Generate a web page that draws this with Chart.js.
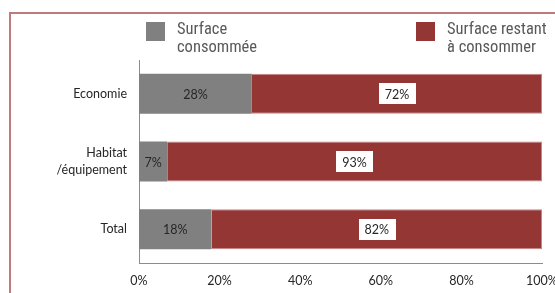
<!DOCTYPE html>
<html>
<head>
<meta charset="utf-8">
<script src="https://cdn.jsdelivr.net/npm/chart.js@4/dist/chart.umd.min.js"></script>
<style>
  html, body { margin: 0; padding: 0; background: #fff; }
  #wrap { position: relative; width: 555px; height: 293px; overflow: hidden; }
  #frame { position: absolute; left: 9px; top: 12px; width: 600px; height: 400px; border: 2px solid #bf7b7b; box-sizing: border-box; }
  canvas { position: absolute; left: 0; top: 0; }
  .leg { position: absolute; font-family: "Liberation Sans Narrow", "Arial Narrow", "Roboto Condensed", sans-serif; font-size: 16.5px; line-height: 17.5px; color: #595959; white-space: nowrap; }
  .sw { position: absolute; width: 19px; height: 19px; }
</style>
</head>
<body>
<div id="wrap">
  <div id="frame"></div>
  <canvas id="c" width="555" height="293"></canvas>
  <div id="legend"></div>
</div>
<script>
const categories = [["Economie"], ["Habitat", "/équipement"], ["Total"]];
const seriesNames = [["Surface", "consommée"], ["Surface restant", "à consommer"]];
const consumed = [28, 7, 18];
const remaining = [72, 93, 82];
const xTicks = [0, 20, 40, 60, 80, 100];
const colors = ["#808080", "#943634"];

const legendPos = [[146, 177], [416, 447]];
const legend = document.getElementById("legend");
seriesNames.forEach((name, i) => {
  const sw = document.createElement("div");
  sw.className = "sw";
  sw.style.left = legendPos[i][0] + "px";
  sw.style.top = "22px";
  sw.style.background = colors[i];
  legend.appendChild(sw);
  const t = document.createElement("div");
  t.className = "leg";
  t.style.left = legendPos[i][1] + "px";
  t.style.top = "20px";
  t.innerHTML = name.join("<br>");
  legend.appendChild(t);
});

const FONT = "Lato, 'Open Sans', sans-serif";

const labelPlugin = {
  id: "barLabels",
  afterDatasetsDraw(chart) {
    const ctx = chart.ctx;
    ctx.save();
    ctx.font = "12.5px " + FONT;
    ctx.textAlign = "center";
    ctx.textBaseline = "middle";
    chart.data.datasets.forEach((ds, di) => {
      const meta = chart.getDatasetMeta(di);
      meta.data.forEach((bar, i) => {
        const cx = (bar.x + bar.base) / 2;
        const cy = bar.y;
        const txt = ds.data[i] + "%";
        if (di === 1) {
          const w = ctx.measureText(txt).width + 12;
          ctx.fillStyle = "#fff";
          ctx.fillRect(Math.round(cx - w / 2), Math.round(cy - 10.5), Math.round(w), 21);
        }
        ctx.fillStyle = "#262626";
        ctx.fillText(txt, cx, cy + 1);
      });
    });
    ctx.restore();
  }
};

new Chart(document.getElementById("c"), {
  type: "bar",
  data: {
    labels: categories,
    datasets: [
      { label: seriesNames[0].join(" "), data: consumed, backgroundColor: colors[0], borderWidth: 0, barPercentage: 0.59, categoryPercentage: 1 },
      { label: seriesNames[1].join(" "), data: remaining, backgroundColor: colors[1], borderColor: "#c98585", borderWidth: 1, borderSkipped: "left", barPercentage: 0.59, categoryPercentage: 1 }
    ]
  },
  plugins: [labelPlugin],
  options: {
    indexAxis: "y",
    responsive: false,
    animation: false,
    devicePixelRatio: 1,
    layout: { padding: { left: 11, top: 60, right: 13, bottom: 0 } },
    plugins: { legend: { display: false }, tooltip: { enabled: false } },
    scales: {
      x: {
        stacked: true,
        min: 0, max: 100,
        afterBuildTicks: (s) => { s.ticks = xTicks.map(v => ({ value: v })); },
        afterFit: (s) => { s.height = 30; s.paddingLeft = 0; s.paddingRight = 0; },
        grid: { display: false, drawTicks: false },
        border: { display: true, color: "#8c8c8c", width: 1 },
        ticks: { padding: 10, color: "#262626", font: { family: FONT, size: 12.5 }, callback: (v) => v + "%" }
      },
      y: {
        stacked: true,
        afterFit: (s) => { s.width = 128; s.paddingTop = 0; s.paddingBottom = 0; },
        grid: { display: false, drawTicks: false },
        border: { display: true, color: "#8c8c8c", width: 1 },
        ticks: { padding: 12, color: "#262626", font: { family: FONT, size: 12.5, lineHeight: 1.4 } }
      }
    }
  }
});
</script>
</body>
</html>
